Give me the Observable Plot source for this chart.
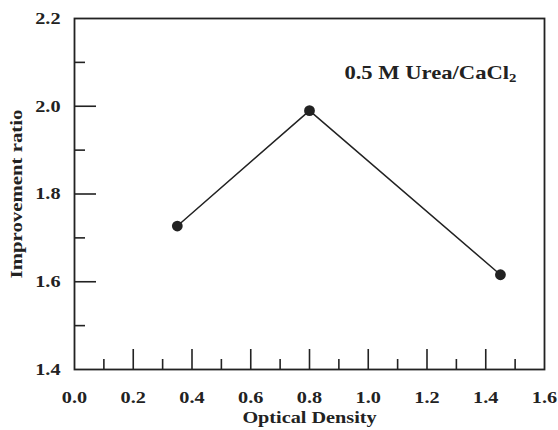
<!DOCTYPE html>
<html>
<head>
<meta charset="utf-8">
<script src="https://cdn.jsdelivr.net/npm/d3@7"></script>
<script src="https://cdn.jsdelivr.net/npm/@observablehq/plot@0.6"></script>
<style>
  html, body { margin: 0; padding: 0; background: #fff; }
  svg text { font-family: "Liberation Serif", "DejaVu Serif", serif; font-weight: bold; }
</style>
</head>
<body>
<div id="chart"></div>
<script>
const opticalDensity = [0.35, 0.80, 1.45];
const improvementRatio = [1.727, 1.990, 1.616];
const xMajorTicks = [0.0, 0.2, 0.4, 0.6, 0.8, 1.0, 1.2, 1.4, 1.6];
const xMinorTicks = [0.1, 0.3, 0.5, 0.7, 0.9, 1.1, 1.3, 1.5];
const yMajorTicks = [1.4, 1.6, 1.8, 2.0, 2.2];
const yMinorTicks = [1.5, 1.7, 1.9, 2.1];
const seriesLabel = "0.5 M Urea/CaCl";
const seriesLabelSub = "2";

const data = opticalDensity.map((x, i) => ({x, y: improvementRatio[i]}));
const ink = "#222";

const plot = Plot.plot({
  width: 558,
  height: 430,
  marginLeft: 74,
  marginRight: 14,
  marginTop: 18,
  marginBottom: 61,
  style: {fontFamily: "Liberation Serif, serif", fontWeight: "bold", background: "#fff"},
  x: {domain: [0, 1.6]},
  y: {domain: [1.4, 2.2]},
  marks: [
    Plot.axisX(xMajorTicks.filter(d => d > 0 && d < 1.6), {tickSize: -20, text: null, stroke: ink, strokeWidth: 1.6, label: null}),
    Plot.axisX(xMinorTicks, {tickSize: -10, text: null, stroke: ink, strokeWidth: 1.6, label: null}),
    Plot.axisX(xMajorTicks, {tickSize: 0, tickPadding: 21, tickFormat: d3.format(".1f"), fontSize: 17, fill: ink, label: null}),
    Plot.axisY(yMajorTicks.filter(d => d > 1.4 && d < 2.2), {tickSize: -22, text: null, stroke: ink, strokeWidth: 1.6, label: null}),
    Plot.axisY(yMinorTicks, {tickSize: -11, text: null, stroke: ink, strokeWidth: 1.6, label: null}),
    Plot.axisY(yMajorTicks, {tickSize: 0, tickPadding: 14, tickFormat: d3.format(".1f"), fontSize: 17, fill: ink, label: null}),
    Plot.frame({stroke: ink, strokeWidth: 1.8}),
    Plot.line(data, {x: "x", y: "y", stroke: ink, strokeWidth: 1.5}),
    Plot.dot(data, {x: "x", y: "y", r: 5.4, fill: ink, stroke: "none"}),
    Plot.text(["Optical Density"], {frameAnchor: "bottom", lineAnchor: "middle", dy: 48, fontSize: 17, fill: ink, className: "title-text"}),
    Plot.text(["Improvement ratio"], {frameAnchor: "left", lineAnchor: "middle", textAnchor: "middle", rotate: -90, dx: -58, fontSize: 17.5, fill: ink, className: "title-text"}),
    Plot.text([seriesLabel], {frameAnchor: "top-right", lineAnchor: "middle", textAnchor: "end", dx: -28, dy: 54, fontSize: 19, fill: ink, className: "series-label"})
  ]
});

d3.select(plot).selectAll("[font-size]").each(function() {
  const v = this.getAttribute("font-size");
  this.style.fontSize = /^[\d.]+$/.test(v) ? v + "px" : v;
});

// subscript "2" of CaCl2
d3.select(plot).selectAll(".series-label text").each(function() {
  d3.select(this).append("tspan")
    .attr("dy", "0.3em")
    .style("font-size", "12.5px")
    .text(seriesLabelSub);
});

document.getElementById("chart").appendChild(plot);

// the reference typeface is wider than Times: widen glyphs slightly
const widen = 1.19;
d3.select(plot).selectAll("text").each(function() {
  const g = this.closest("g");
  const own = g && (g.classList.contains("title-text") || g.classList.contains("series-label"));
  if (own) {
    const t = this.getAttribute("transform") || "";
    this.setAttribute("transform", t + ` scale(${widen},1)`);
  } else {
    const len = this.getComputedTextLength();
    if (len > 0) {
      this.setAttribute("textLength", (len * widen).toFixed(1));
      this.setAttribute("lengthAdjust", "spacingAndGlyphs");
    }
  }
});
</script>
</body>
</html>
